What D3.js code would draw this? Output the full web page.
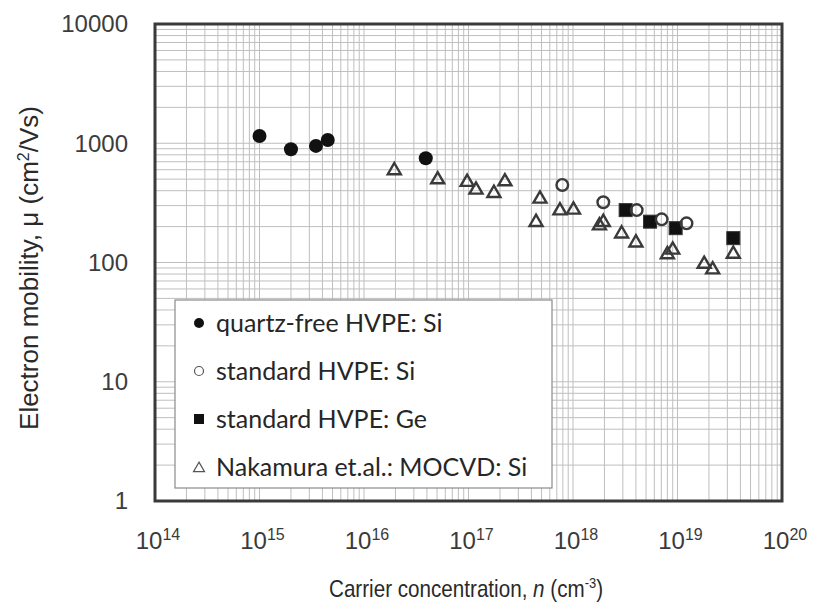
<!DOCTYPE html>
<html>
<head>
<meta charset="utf-8">
<script src="https://cdn.jsdelivr.net/npm/d3@7"></script>
<style>
  html, body { margin: 0; padding: 0; background: #fff; }
  svg { display: block; }
</style>
</head>
<body>
<svg id="chart" width="819" height="604"></svg>
<script>
// Electron mobility vs. carrier concentration (log-log)
const quartzFreeSi = [
  [1.0e15, 1150], [2.0e15, 890], [3.47e15, 950], [4.5e15, 1065], [3.9e16, 748]
];
const standardSi = [
  [7.9e17, 447], [1.95e18, 320], [4.07e18, 275], [7.06e18, 230], [1.22e19, 213]
];
const standardGe = [
  [3.19e18, 275], [5.46e18, 220], [9.6e18, 194], [3.42e19, 160]
];
const nakamuraMOCVD = [
  [1.95e16, 597], [5.07e16, 501], [9.7e16, 477], [1.18e17, 411], [1.75e17, 385],
  [2.23e17, 482], [4.43e17, 220], [4.83e17, 345], [7.5e17, 275], [1.01e18, 279],
  [1.79e18, 206], [1.95e18, 220], [2.92e18, 176], [4.0e18, 148], [8.0e18, 118],
  [9.0e18, 129], [1.80e19, 98], [2.17e19, 88], [3.42e19, 119]
];
const xTickExponents = [14, 15, 16, 17, 18, 19, 20];
const yTickLabels = ["1", "10", "100", "1000", "10000"];
const legendLabels = [
  "quartz-free HVPE: Si",
  "standard HVPE: Si",
  "standard HVPE: Ge",
  "Nakamura et.al.: MOCVD: Si"
];

const svg = d3.select("#chart");
const plotL = 155, plotR = 782, plotT = 24, plotB = 501;

const x = d3.scaleLog().domain([1e14, 1e20]).range([plotL, plotR]);
const y = d3.scaleLog().domain([1, 1e4]).range([plotB, plotT]);

// grid
const grid = svg.append("g");
grid.selectAll("line.vx").data(x.ticks()).join("line")
  .attr("x1", d => x(d)).attr("x2", d => x(d))
  .attr("y1", plotT).attr("y2", plotB)
  .attr("stroke", "#bfbfbf").attr("stroke-width", 1);
grid.selectAll("line.hy").data(y.ticks()).join("line")
  .attr("y1", d => y(d)).attr("y2", d => y(d))
  .attr("x1", plotL).attr("x2", plotR)
  .attr("stroke", "#bfbfbf").attr("stroke-width", 1);

// plot frame
svg.append("rect")
  .attr("x", plotL).attr("y", plotT)
  .attr("width", plotR - plotL).attr("height", plotB - plotT)
  .attr("fill", "none").attr("stroke", "#3a3a3a").attr("stroke-width", 3);

// y tick labels
svg.append("g").selectAll("text").data(yTickLabels).join("text")
  .attr("x", 128).attr("y", d => y(+d))
  .attr("dy", "0.35em")
  .attr("text-anchor", "end")
  .attr("font-family", "Liberation Sans, Arial, sans-serif")
  .attr("font-size", 24)
  .attr("fill", "#3c3c3c")
  .text(d => d);

// x tick labels (powers of ten)
const xl = svg.append("g").selectAll("text").data(xTickExponents).join("text")
  .attr("x", d => x(Math.pow(10, d)) + 3)
  .attr("y", 549)
  .attr("text-anchor", "middle")
  .attr("font-family", "Liberation Sans, Arial, sans-serif")
  .attr("font-size", 24)
  .attr("fill", "#3a3a3a");
xl.append("tspan").text("10");
xl.append("tspan").attr("dy", -9).attr("font-size", 16).text(d => d);

// axis titles (x title set in a narrowed face)
const xt = svg.append("text")
  .attr("transform", "translate(466,597) scale(0.86,1)")
  .attr("text-anchor", "middle")
  .attr("font-family", "Liberation Sans, Arial, sans-serif")
  .attr("font-size", 24)
  .attr("fill", "#2a2a2a");
xt.append("tspan").text("Carrier concentration, ");
xt.append("tspan").attr("font-style", "italic").text("n");
xt.append("tspan").text(" (cm");
xt.append("tspan").attr("dy", -9).attr("font-size", 15).text("-3");
xt.append("tspan").attr("dy", 9).text(")");

const yt = svg.append("text")
  .attr("transform", "translate(38,268) rotate(-90)")
  .attr("text-anchor", "middle")
  .attr("font-family", "Liberation Sans, Arial, sans-serif")
  .attr("font-size", 26)
  .attr("fill", "#2a2a2a");
yt.append("tspan").text("Electron mobility, \u03bc (cm");
yt.append("tspan").attr("dy", -9).attr("font-size", 16).text("2");
yt.append("tspan").attr("dy", 9).text("/Vs)");

// markers
const triPath = s => {
  const h = s * Math.sqrt(3) / 2;
  return `M0,${-h * 0.62}L${s / 2},${h * 0.38}L${-s / 2},${h * 0.38}Z`;
};

const marks = svg.append("g");
marks.selectAll("path.tri").data(nakamuraMOCVD).join("path")
  .attr("transform", d => `translate(${x(d[0])},${y(d[1])})`)
  .attr("d", triPath(13))
  .attr("fill", "none").attr("stroke", "#3a3a3a").attr("stroke-width", 2.4);
marks.selectAll("rect.sq").data(standardGe).join("rect")
  .attr("x", d => x(d[0]) - 6.5).attr("y", d => y(d[1]) - 6.5)
  .attr("width", 13).attr("height", 13)
  .attr("fill", "#111").attr("stroke", "#333").attr("stroke-width", 1);
marks.selectAll("circle.open").data(standardSi).join("circle")
  .attr("cx", d => x(d[0])).attr("cy", d => y(d[1])).attr("r", 5.8)
  .attr("fill", "none").attr("stroke", "#3a3a3a").attr("stroke-width", 2.4);
marks.selectAll("circle.filled").data(quartzFreeSi).join("circle")
  .attr("cx", d => x(d[0])).attr("cy", d => y(d[1])).attr("r", 7)
  .attr("fill", "#111");

// legend
const lg = svg.append("g");
lg.append("rect")
  .attr("x", 175).attr("y", 300).attr("width", 377).attr("height", 188)
  .attr("fill", "#fff").attr("stroke", "#8a8a8a").attr("stroke-width", 1.2);
const rowY = i => 323 + i * 48;
lg.selectAll("text").data(legendLabels).join("text")
  .attr("x", 216).attr("y", (d, i) => rowY(i))
  .attr("dy", "0.35em")
  .attr("font-family", "Lato, 'Open Sans', sans-serif")
  .attr("font-size", 25)
  .attr("fill", "#262626")
  .text(d => d);
lg.append("circle").attr("cx", 199).attr("cy", rowY(0)).attr("r", 5).attr("fill", "#111");
lg.append("circle").attr("cx", 199).attr("cy", rowY(1)).attr("r", 4.5)
  .attr("fill", "none").attr("stroke", "#555").attr("stroke-width", 1.2);
lg.append("rect").attr("x", 194).attr("y", rowY(2) - 5).attr("width", 10).attr("height", 10)
  .attr("fill", "#111");
lg.append("path").attr("transform", `translate(199,${rowY(3) + 1})`)
  .attr("d", triPath(11))
  .attr("fill", "none").attr("stroke", "#555").attr("stroke-width", 1.2);
</script>
</body>
</html>
